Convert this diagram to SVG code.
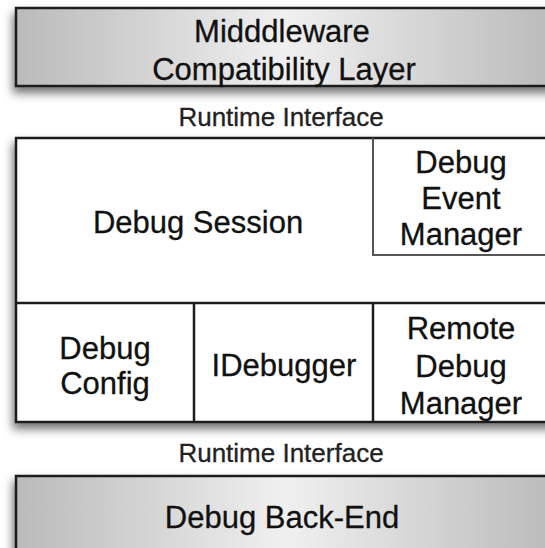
<svg xmlns="http://www.w3.org/2000/svg" width="545" height="548" viewBox="0 0 545 548">
  <defs>
    <linearGradient id="gray" gradientUnits="userSpaceOnUse" x1="16" y1="0" x2="556" y2="0">
      <stop offset="0" stop-color="#bababa"/>
      <stop offset="0.5" stop-color="#f0f0f0"/>
      <stop offset="1" stop-color="#bababa"/>
    </linearGradient>
    <filter id="shadow" x="-10%" y="-10%" width="120%" height="140%">
      <feDropShadow dx="-2" dy="6" stdDeviation="5" flood-color="#000" flood-opacity="0.55"/>
    </filter>
  </defs>
  <style>
    .box { stroke: #1c1c1c; stroke-width: 2.5; }
    .div { stroke: #1c1c1c; stroke-width: 2.5; fill: none; }
    .sub { stroke: #555; stroke-width: 2; fill: none; }
    text { font-family: "Liberation Sans", Arial, sans-serif; fill: #111; text-anchor: middle; stroke: #111; stroke-width: 0.3; }
    .lbl { font-size: 31px; }
    .iface { font-size: 26px; fill: #222; stroke: #222; }
  </style>
  <rect width="545" height="548" fill="#fff"/>

  <g id="middleware">
    <rect class="box" x="16" y="8" width="545" height="78" fill="url(#gray)" filter="url(#shadow)"/>
    <text class="lbl" x="282" y="42">Midddleware</text>
    <text class="lbl" x="284" y="80">Compatibility Layer</text>
  </g>

  <g id="runtime-interface-top">
    <text class="iface" x="281" y="126">Runtime Interface</text>
  </g>

  <g id="debug-core">
    <rect class="box" x="16" y="138" width="545" height="284" fill="#fff" filter="url(#shadow)"/>
  </g>

  <g id="connectors">
    <line class="div" x1="16" y1="303" x2="561" y2="303"/>
    <line class="div" x1="194" y1="303" x2="194" y2="422"/>
    <line class="div" x1="373" y1="303" x2="373" y2="422"/>
    <polyline class="sub" points="373,138 373,255 561,255"/>
  </g>

  <g id="debug-session">
    <text class="lbl" x="198" y="233">Debug Session</text>
  </g>

  <g id="debug-event-manager">
    <text class="lbl" x="461" y="173">Debug</text>
    <text class="lbl" x="461" y="209">Event</text>
    <text class="lbl" x="461" y="245">Manager</text>
  </g>

  <g id="debug-config">
    <text class="lbl" x="105" y="359">Debug</text>
    <text class="lbl" x="105" y="394">Config</text>
  </g>

  <g id="idebugger">
    <text class="lbl" x="284" y="376">IDebugger</text>
  </g>

  <g id="remote-debug-manager">
    <text class="lbl" x="461" y="339">Remote</text>
    <text class="lbl" x="461" y="377">Debug</text>
    <text class="lbl" x="461" y="414">Manager</text>
  </g>

  <g id="runtime-interface-bottom">
    <text class="iface" x="281" y="462">Runtime Interface</text>
  </g>

  <g id="debug-back-end">
    <rect class="box" x="16" y="476" width="545" height="90" fill="url(#gray)" filter="url(#shadow)"/>
    <text class="lbl" x="282" y="528">Debug Back-End</text>
  </g>
</svg>
